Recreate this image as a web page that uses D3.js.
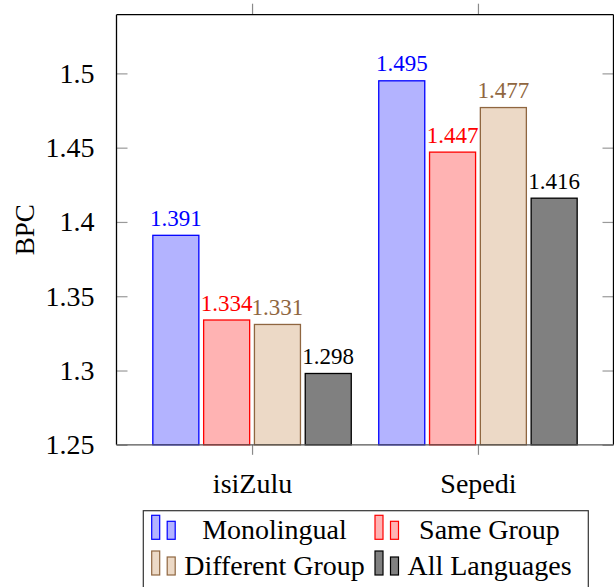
<!DOCTYPE html>
<html>
<head>
<meta charset="utf-8">
<script src="https://cdn.jsdelivr.net/npm/d3@7"></script>
<style>
  body { margin: 0; background: #fff; }
  svg text { font-family: "Liberation Serif", "Times New Roman", serif; }
</style>
</head>
<body>
<div id="chart"></div>
<script>
// data
var categories = ["isiZulu", "Sepedi"];
var seriesNames = ["Monolingual", "Same Group", "Different Group", "All Languages"];
var monolingual = [1.391, 1.495];
var sameGroup = [1.334, 1.447];
var differentGroup = [1.331, 1.477];
var allLanguages = [1.298, 1.416];
var yTicks = [1.25, 1.3, 1.35, 1.4, 1.45, 1.5];

var seriesValues = [monolingual, sameGroup, differentGroup, allLanguages];
var fills = ["#b3b3ff", "#ffb3b3", "#ecd9c6", "#808080"];
var strokes = ["#0000ff", "#ff0000", "#8f6640", "#000000"];
var labelColors = ["#0000ff", "#ff0000", "#8f6640", "#000000"];
var serif = "Liberation Serif";

var width = 614,
  height = 587;
// note: "top" is reserved on window, so use plot* names
var plotLeft = 116.5,
  plotRight = 613.5,
  plotTop = 14.7,
  plotBottom = 444.8;

var svg = d3
  .select("#chart")
  .append("svg")
  .attr("width", width)
  .attr("height", height)
  .attr("font-family", serif);

//scales
var x = d3.scaleLinear().domain([-0.6, 1.6]).range([plotLeft, plotRight]);
var x1 = d3
  .scaleBand()
  .domain(seriesNames)
  .range([-101.6, 101.6])
  .paddingInner(0.094)
  .paddingOuter(0.047);
var y = d3.scaleLinear().domain([1.25, 1.5395]).range([plotBottom, plotTop]);

//y ticks, inside on both sides
var yAxisL = d3.axisLeft(y).tickValues(yTicks).tickSize(-11).tickPadding(22).tickFormat(d3.format(""));
var gy = svg
  .append("g")
  .attr("transform", "translate(" + plotLeft + ",0)")
  .call(yAxisL)
  .attr("font-family", serif)
  .attr("font-size", 28);
gy.select(".domain").remove();
gy.selectAll("line").attr("stroke", "#9a9a9a").attr("stroke-width", 1.2);
gy.selectAll("text").attr("fill", "#000");

var gyR = svg
  .append("g")
  .attr("transform", "translate(" + plotRight + ",0)")
  .call(d3.axisRight(y).tickValues(yTicks).tickSize(-11).tickFormat(""));
gyR.select(".domain").remove();
gyR.selectAll("line").attr("stroke", "#9a9a9a").attr("stroke-width", 1.2);

//x ticks, outside top and bottom
var gx = svg
  .append("g")
  .attr("transform", "translate(0," + plotBottom + ")")
  .call(
    d3.axisBottom(x)
      .tickValues(d3.range(categories.length))
      .tickSize(10)
      .tickPadding(18)
      .tickFormat(function(i) {
        return categories[i];
      })
  )
  .attr("font-family", serif)
  .attr("font-size", 28);
gx.select(".domain").remove();
gx.selectAll("line").attr("stroke", "#8a8a8a").attr("stroke-width", 1.2);
gx.selectAll("text").attr("fill", "#000");

var gxT = svg
  .append("g")
  .attr("transform", "translate(0," + plotTop + ")")
  .call(d3.axisTop(x).tickValues(d3.range(categories.length)).tickSize(11).tickFormat(""));
gxT.select(".domain").remove();
gxT.selectAll("line").attr("stroke", "#8a8a8a").attr("stroke-width", 1.2);

//bars
seriesValues.forEach(function(vals, s) {
  svg
    .selectAll(".bar" + s)
    .data(vals)
    .enter()
    .append("rect")
    .attr("class", "bar" + s)
    .attr("x", function(d, i) {
      return x(i) + x1(seriesNames[s]);
    })
    .attr("y", function(d) {
      return y(d);
    })
    .attr("width", x1.bandwidth())
    .attr("height", function(d) {
      return plotBottom - y(d);
    })
    .attr("fill", fills[s])
    .attr("stroke", strokes[s])
    .attr("stroke-width", 1.3);

  //value labels on top
  svg
    .selectAll(".lab" + s)
    .data(vals)
    .enter()
    .append("text")
    .attr("class", "lab" + s)
    .attr("x", function(d, i) {
      return x(i) + x1(seriesNames[s]) + x1.bandwidth() / 2;
    })
    .attr("y", function(d) {
      return y(d) - 9.5;
    })
    .attr("text-anchor", "middle")
    .attr("font-family", serif)
    .attr("font-size", "23px")
    .attr("fill", labelColors[s])
    .text(function(d) {
      return d3.format(".3f")(d);
    });
});

//frame
svg.append("line").attr("x1", plotLeft).attr("x2", plotRight).attr("y1", plotTop).attr("y2", plotTop).attr("stroke", "#000").attr("stroke-width", 1.3);
svg.append("line").attr("x1", plotLeft).attr("x2", plotLeft).attr("y1", plotTop).attr("y2", plotBottom).attr("stroke", "#000").attr("stroke-width", 1.3);
svg.append("line").attr("x1", plotRight).attr("x2", plotRight).attr("y1", plotTop).attr("y2", plotBottom).attr("stroke", "#000").attr("stroke-width", 1.3);
svg.append("line").attr("x1", plotLeft).attr("x2", plotRight).attr("y1", plotBottom).attr("y2", plotBottom).attr("stroke", "#555").attr("stroke-width", 1.3);

//y axis title
svg
  .append("text")
  .attr("transform", "translate(34," + (plotTop + plotBottom) / 2 + ") rotate(-90)")
  .attr("text-anchor", "middle")
  .attr("font-family", serif)
  .attr("font-size", "27px")
  .text("BPC");

//legend
var legend = svg.append("g");
legend
  .append("rect")
  .attr("x", 143.3)
  .attr("y", 510.7)
  .attr("width", 445)
  .attr("height", 100)
  .attr("fill", "#fff")
  .attr("stroke", "#333")
  .attr("stroke-width", 1.2);

var legIconX = [151.7, 375];
var legTextX = [274.5, 489.5];
var legBase = [539.3, 575];
seriesNames.forEach(function(name, s) {
  var col = s % 2,
    row = Math.floor(s / 2);
  var g = legend.append("g");
  g.append("rect")
    .attr("x", legIconX[col])
    .attr("y", legBase[row] - 24)
    .attr("width", 8)
    .attr("height", 24)
    .attr("fill", fills[s])
    .attr("stroke", strokes[s])
    .attr("stroke-width", 1.2);
  g.append("rect")
    .attr("x", legIconX[col] + 15.5)
    .attr("y", legBase[row] - 18)
    .attr("width", 8)
    .attr("height", 18)
    .attr("fill", fills[s])
    .attr("stroke", strokes[s])
    .attr("stroke-width", 1.2);
  g.append("text")
    .attr("x", legTextX[col])
    .attr("y", legBase[row])
    .attr("text-anchor", "middle")
    .attr("font-family", serif)
    .attr("font-size", "28px")
    .attr("fill", "#000")
    .text(name);
});
</script>
</body>
</html>
